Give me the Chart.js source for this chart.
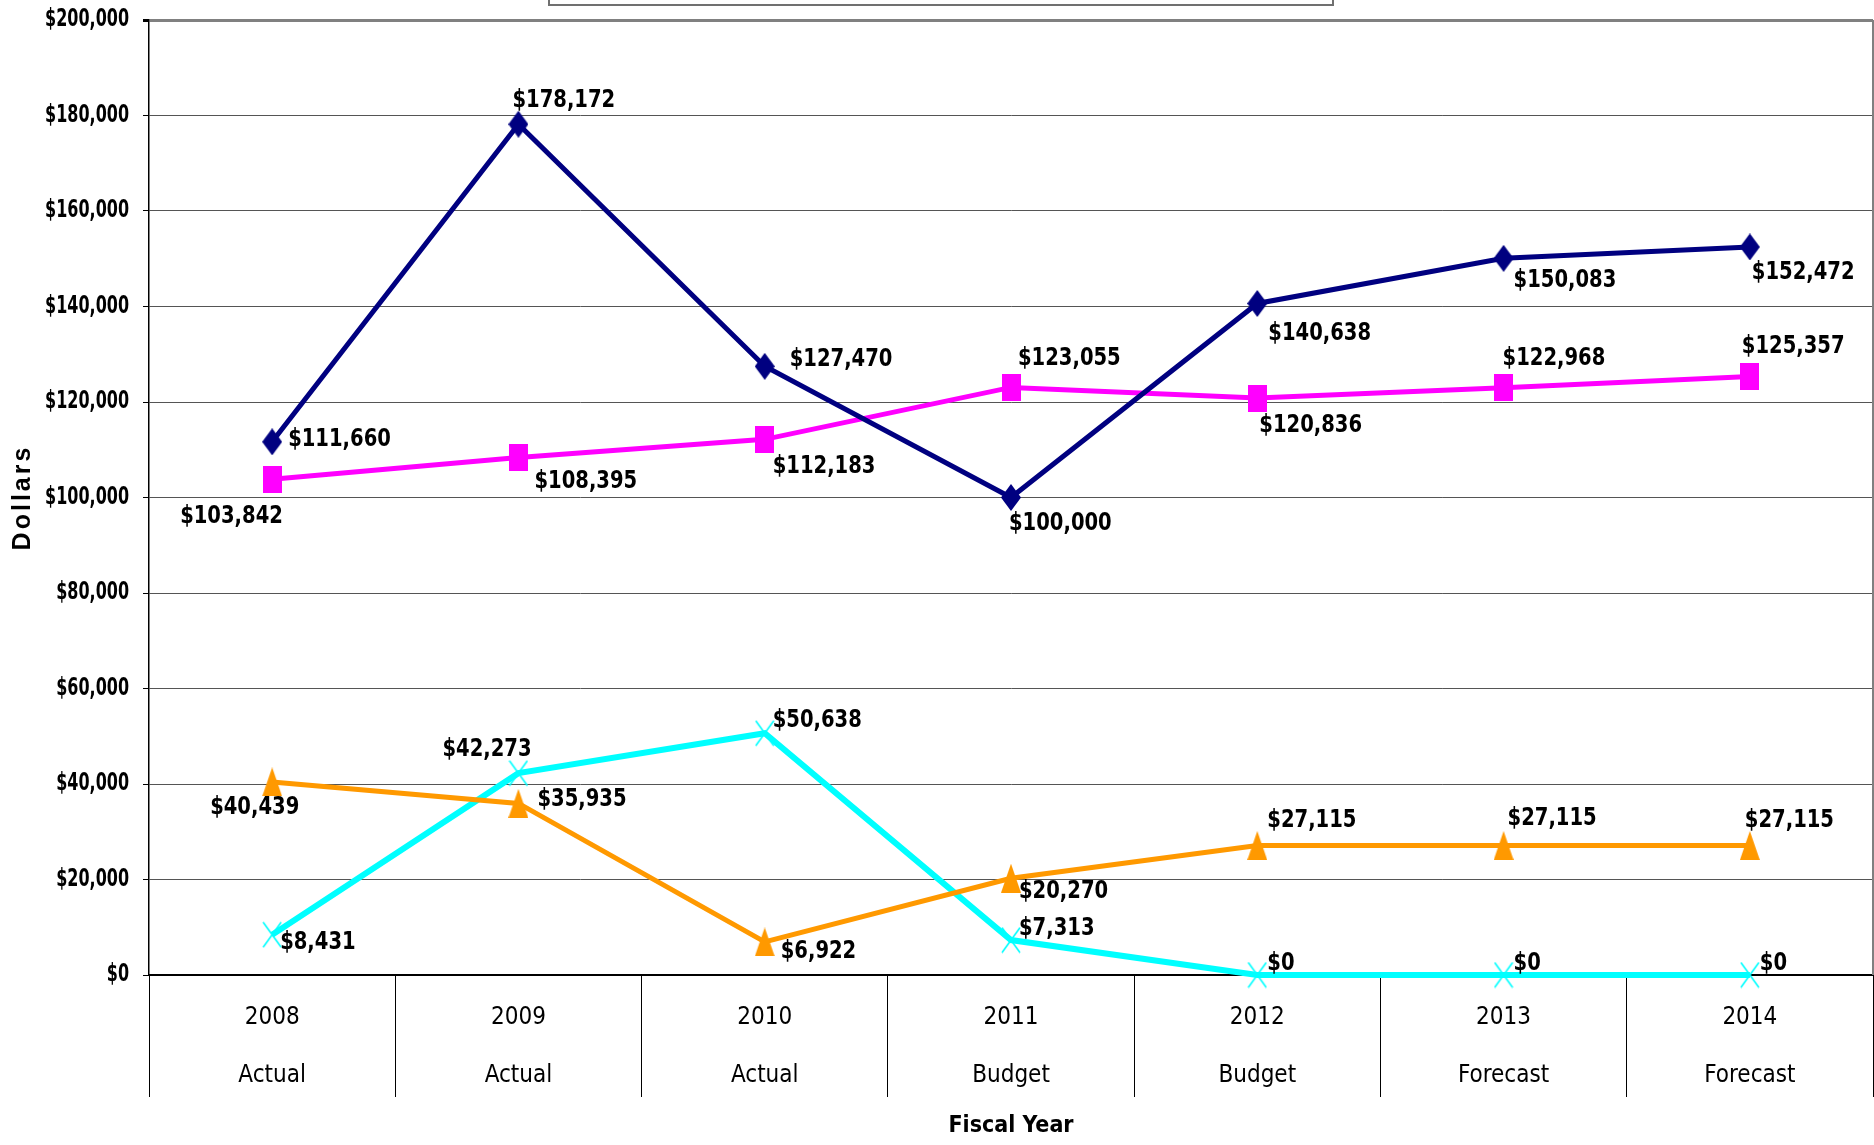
<!DOCTYPE html>
<html>
<head>
<meta charset="utf-8">
<script src="https://cdn.jsdelivr.net/npm/chart.js@4.4.0/dist/chart.umd.min.js"></script>
<style>
  html, body { margin: 0; padding: 0; background: #fff; }
  canvas { display: block; }
</style>
</head>
<body>
<canvas id="chart" width="1874" height="1145"></canvas>
<script>
const years = ["2008", "2009", "2010", "2011", "2012", "2013", "2014"];
const kinds = ["Actual", "Actual", "Actual", "Budget", "Budget", "Forecast", "Forecast"];

const navyValues = [111660, 178172, 127470, 100000, 140638, 150083, 152472];
const magentaValues = [103842, 108395, 112183, 123055, 120836, 122968, 125357];
const orangeValues = [40439, 35935, 6922, 20270, 27115, 27115, 27115];
const cyanValues = [8431, 42273, 50638, 7313, 0, 0, 0];

const yTicks = [0, 20000, 40000, 60000, 80000, 100000, 120000, 140000, 160000, 180000, 200000];

// label placement (left edge / vertical centre relative to the point), one pair per point
const navyLabelPos = [[16, -2], [-6, -24], [25, -7], [-2, 26], [11, 30], [10, 22], [2, 26]];
const magentaLabelPos = [[-92, 37], [16, 24], [8, 27], [7, -29], [2, 27], [-1, -29], [-8, -30]];
const orangeLabelPos = [[-62, 26], [19, -4], [16, 10], [8, 13], [10, -25], [4, -27], [-5, -25]];
const cyanLabelPos = [[8, 8], [-76, -24], [8, -13], [8, -12], [10, -12], [10, -12], [10, -12]];

const narrow = "'Liberation Sans Narrow', 'Arial Narrow', 'DejaVu Sans Condensed', sans-serif";
const money = (v) => "$" + v.toLocaleString("en-US");

// excel style markers, a bit taller than wide
function marker(shape, w, h, color) {
    const c = document.createElement("canvas");
    c.width = w;
    c.height = h;
    const g = c.getContext("2d");
    g.fillStyle = color;
    g.strokeStyle = color;
    g.beginPath();
    if (shape === "diamond") {
        g.moveTo(w / 2, 0); g.lineTo(w, h / 2); g.lineTo(w / 2, h); g.lineTo(0, h / 2);
        g.closePath(); g.fill();
    } else if (shape === "square") {
        g.fillRect(0, 0, w, h);
    } else if (shape === "triangle") {
        g.moveTo(w / 2, 0); g.lineTo(w, h); g.lineTo(0, h);
        g.closePath(); g.fill();
    } else {
        g.lineWidth = 1.6;
        g.moveTo(1, 1); g.lineTo(w - 1, h - 1);
        g.moveTo(w - 1, 1); g.lineTo(1, h - 1);
        g.stroke();
    }
    return c;
}

// squeeze the y labels horizontally around their right edge, space out the title
function condenseY(s) {
    if (s._condensed) return;
    s._condensed = true;
    const drawLabels = s.drawLabels.bind(s);
    s.drawLabels = (area) => {
        const ctx = s.ctx;
        const ax = s.right - 20;
        ctx.save();
        ctx.translate(ax, 0);
        ctx.scale(0.74, 1);
        ctx.translate(-ax, 0);
        drawLabels(area);
        ctx.restore();
    };
    const drawTitle = s.drawTitle.bind(s);
    s.drawTitle = () => {
        const ctx = s.ctx;
        ctx.save();
        ctx.letterSpacing = "3px";
        drawTitle();
        ctx.restore();
    };
}

const labelPlugin = {
    id: "pointLabels",
    afterDatasetsDraw(chart) {
        const ctx = chart.ctx;
        chart.data.datasets.forEach((ds, i) => {
            const meta = chart.getDatasetMeta(i);
            meta.data.forEach((pt, j) => {
                const [dx, dy] = ds.labelPos[j];
                ctx.save();
                ctx.font = "bold 25px " + narrow;
                ctx.fillStyle = "#000";
                ctx.textAlign = "left";
                ctx.textBaseline = "middle";
                ctx.translate(pt.x + dx, pt.y + dy);
                ctx.scale(0.87, 1);
                ctx.fillText(money(ds.data[j]), 0, 0);
                ctx.restore();
            });
        });
    }
};

const framePlugin = {
    id: "frame",
    afterDraw(chart) {
        const ctx = chart.ctx;
        const a = chart.chartArea;
        ctx.save();
        // right border of the plot
        ctx.strokeStyle = "#808080";
        ctx.lineWidth = 2;
        ctx.beginPath();
        ctx.moveTo(a.right, a.top);
        ctx.lineTo(a.right, a.bottom);
        ctx.stroke();
        // legend box, mostly cut off at the top
        ctx.strokeStyle = "#707070";
        ctx.lineWidth = 2;
        ctx.strokeRect(549, -20, 784, 25);
        ctx.restore();
    }
};

const lineSet = (label, data, color, style, width, labelPos) => ({
    label: label,
    data: data,
    labelPos: labelPos,
    borderColor: color,
    backgroundColor: color,
    pointStyle: style,
    pointRadius: 10,
    pointHoverRadius: 10,
    borderWidth: width,
    tension: 0,
    fill: false,
    clip: false
});

new Chart(document.getElementById("chart"), {
    type: "line",
    data: {
        labels: years.map((y, i) => [y, kinds[i]]),
        datasets: [
            lineSet("Series 1", navyValues, "#000080", marker("diamond", 20, 27, "#000080"), 5, navyLabelPos),
            lineSet("Series 2", magentaValues, "#ff00ff", marker("square", 19, 27, "#ff00ff"), 5, magentaLabelPos),
            lineSet("Series 3", orangeValues, "#ff9900", marker("triangle", 20, 29, "#ff9900"), 5, orangeLabelPos),
            lineSet("Series 4", cyanValues, "#00ffff", marker("x", 20, 27, "#00ffff"), 6, cyanLabelPos)
        ]
    },
    options: {
        responsive: false,
        animation: false,
        layout: { autoPadding: false, padding: { top: 20, right: 1, left: 0, bottom: 0 } },
        plugins: {
            legend: { display: false },
            tooltip: { enabled: false }
        },
        scales: {
            x: {
                offset: true,
                afterFit: (s) => {
                    s.height = 170;
                    s.paddingLeft = 0;
                    s.paddingRight = 0;
                },
                grid: {
                    offset: true,
                    drawOnChartArea: false,
                    drawTicks: true,
                    tickLength: 122,
                    color: "#000",
                    lineWidth: 1
                },
                border: { color: "#000", width: 2 },
                ticks: {
                    color: "#000",
                    autoSkip: false,
                    maxRotation: 0,
                    padding: -108,
                    font: { family: narrow, size: 24, lineHeight: "58px" }
                },
                title: {
                    display: true,
                    text: "Fiscal Year",
                    color: "#000",
                    font: { family: narrow, size: 23, weight: "bold" },
                    padding: { top: 0, bottom: 5 }
                }
            },
            y: {
                min: 0,
                max: 200000,
                afterFit: (s) => {
                    s.width = 149;
                    s.paddingTop = 0;
                    s.paddingBottom = 0;
                    condenseY(s);
                },
                afterBuildTicks: (s) => { s.ticks = yTicks.map(v => ({ value: v })); },
                grid: {
                    color: (c) => c.tick && c.tick.value === 200000 ? "#808080" : "#555",
                    lineWidth: (c) => c.tick && c.tick.value === 200000 ? 3 : 1,
                    tickLength: 6,
                    tickColor: "#000"
                },
                border: { color: "#000", width: 1.5 },
                ticks: {
                    color: "#000",
                    padding: 14,
                    callback: (v) => money(v),
                    font: { family: narrow, size: 24, weight: "bold" }
                },
                title: {
                    display: true,
                    text: "Dollars",
                    color: "#000",
                    font: { family: "'Liberation Sans', Arial, sans-serif", size: 25, weight: "bold" },
                    padding: { top: 8, bottom: 0 }
                }
            }
        }
    },
    plugins: [labelPlugin, framePlugin]
});
</script>
</body>
</html>
